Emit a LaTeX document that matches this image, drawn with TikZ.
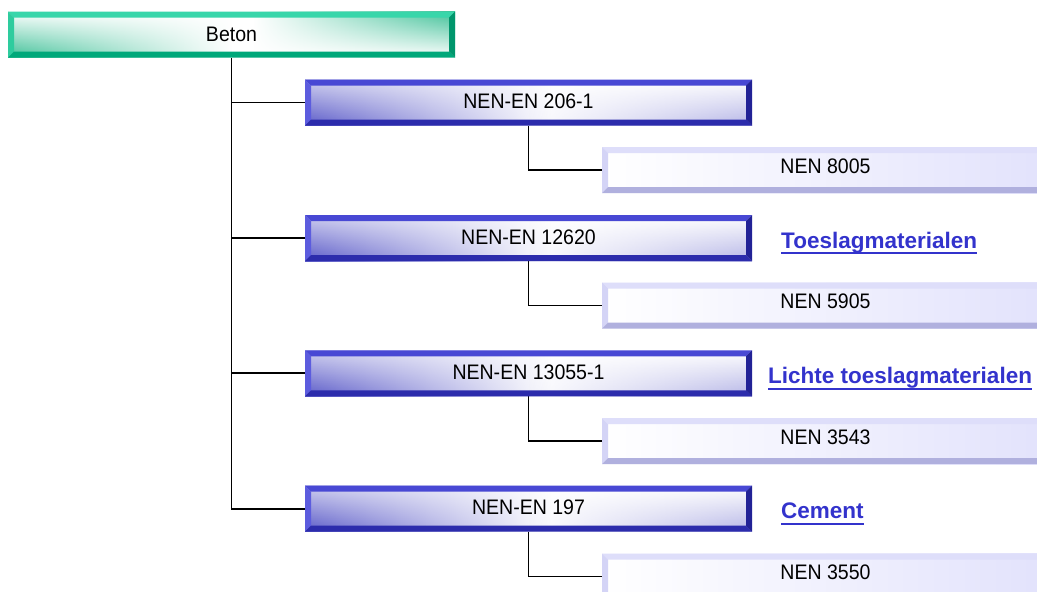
\documentclass[tikz,border=0pt]{standalone}
\usepackage{fontspec}
\setmainfont{Liberation Sans}
\newfontfamily\boxfam{Liberation Sans}[FakeStretch=0.93]
\usetikzlibrary{calc,fadings}

% frame colours of the three box families
\definecolor{tealTop}{RGB}{56,214,170}
\definecolor{tealLeft}{RGB}{46,204,158}
\definecolor{tealBot}{RGB}{0,168,122}
\definecolor{tealRight}{RGB}{0,150,108}
\definecolor{tealIn}{RGB}{60,192,150}
\definecolor{blueTop}{RGB}{72,72,212}
\definecolor{blueLeft}{RGB}{92,92,222}
\definecolor{blueBot}{RGB}{44,44,172}
\definecolor{blueRight}{RGB}{34,34,150}
\definecolor{blueIn}{RGB}{90,90,200}
\definecolor{lavTop}{RGB}{222,222,250}
\definecolor{lavLeft}{RGB}{212,212,246}
\definecolor{lavBot}{RGB}{176,176,222}
\definecolor{lavRight}{RGB}{190,190,232}
\definecolor{lavIn}{RGB}{226,226,252}
\definecolor{linkblue}{RGB}{51,51,204}

\newcommand\boxfont{\boxfam\fontsize{21}{25}\selectfont}
\newcommand\linkfont{\fontsize{22.5}{26}\selectfont\bfseries}

% bevelled frame around a named node: #1 width, #2 node, #3..#6 top/left/bottom/right colours
\newcommand\bevelframe[6][6pt]{%
  \fill[#3] (#2.north west) -- (#2.north east) -- ([shift={(-#1,-#1)}]#2.north east) -- ([shift={(#1,-#1)}]#2.north west) -- cycle;
  \fill[#4] (#2.north west) -- ([shift={(#1,-#1)}]#2.north west) -- ([shift={(#1,#1)}]#2.south west) -- (#2.south west) -- cycle;
  \fill[#5] (#2.south west) -- ([shift={(#1,#1)}]#2.south west) -- ([shift={(-#1,#1)}]#2.south east) -- (#2.south east) -- cycle;
  \fill[#6] (#2.south east) -- ([shift={(-#1,#1)}]#2.south east) -- ([shift={(-#1,-#1)}]#2.north east) -- (#2.north east) -- cycle;
}

% two corner glows inside a box: #1 left share, #2 right start, #3/#4 left top/bottom, #5/#6 right top/bottom
\newcommand\cornerglow[6]{%
  \coordinate (pSW) at (path picture bounding box.south west);
  \coordinate (pNE) at (path picture bounding box.north east);
  \coordinate (pSE) at (path picture bounding box.south east);
  \coordinate (pNW) at (path picture bounding box.north west);
  \shade[top color=#3, bottom color=#4, path fading=east]
    (pSW) rectangle ($(pNW)!#1!(pNE)$);
  \shade[top color=#5, bottom color=#6, path fading=west]
    ($(pSW)!#2!(pSE)$) rectangle (pNE);
}

\begin{document}
\begin{tikzpicture}[x=1pt,y=-1pt,
  box/.style={minimum width=447pt, minimum height=46pt, inner sep=0pt, outer sep=0pt,
    font=\boxfont, text=black},
  tealbox/.style={box, fill=white, path picture={
    \cornerglow{0.5}{0.55}{white}{tealIn}{tealIn}{white}}},
  bluebox/.style={box, fill=white, text height=14pt, text depth=2pt, path picture={
    \cornerglow{0.55}{0.5}{blueIn!30}{blueIn}{white}{blueIn!45}}},
  lavbox/.style={box, left color=white, right color=lavIn, text height=14pt, text depth=8pt},
  link/.style={font=\linkfont, text=linkblue, inner sep=0pt, anchor=base west},
  conn/.style={line width=1.8pt, black},
]
\useasboundingbox (0,0) rectangle (1037,592);
\clip (0,0) rectangle (1037,592);

% root
\node[tealbox] (beton) at (231.5,34.5) {Beton};

% European standards
\node[bluebox] (en1) at (528.5,102.5) {NEN-EN 206-1};
\node[bluebox] (en2) at (528.5,238)   {NEN-EN 12620};
\node[bluebox] (en3) at (528.5,373.3) {NEN-EN 13055-1};
\node[bluebox] (en4) at (528.5,508.6) {NEN-EN 197};

% national supplements
\node[lavbox] (nen1) at (825.5,170)   {NEN 8005};
\node[lavbox] (nen2) at (825.5,305.5) {NEN 5905};
\node[lavbox] (nen3) at (825.5,441)   {NEN 3543};
\node[lavbox] (nen4) at (825.5,576.5) {NEN 3550};

% connectors
\draw[conn] (beton.south) -- (beton.south |- en4.west) -- (en4.west);
\foreach \n in {en1,en2,en3}
  \draw[conn] (beton.south |- \n.west) -- (\n.west);
\foreach \a/\b in {en1/nen1,en2/nen2,en3/nen3,en4/nen4}
  \draw[conn] (\a.south) |- (\b.west);

% bevelled frames
\bevelframe{beton}{tealTop}{tealLeft}{tealBot}{tealRight}
\foreach \n in {en1,en2,en3,en4}
  {\bevelframe{\n}{blueTop}{blueLeft}{blueBot}{blueRight}}
\foreach \n in {nen1,nen2,nen3,nen4}
  {\bevelframe{\n}{lavTop}{lavLeft}{lavBot}{lavRight}}

% material links
\node[link] (toes)  at (781,248)   {Toeslagmaterialen};
\node[link] (licht) at (768,383.5) {Lichte toeslagmaterialen};
\node[link] (cem)   at (781,518.6) {Cement};
\foreach \n in {toes,licht,cem}
  \draw[linkblue, line width=2pt] ([yshift=-5pt]\n.base west) -- ([yshift=-5pt]\n.base east);
\end{tikzpicture}
\end{document}
